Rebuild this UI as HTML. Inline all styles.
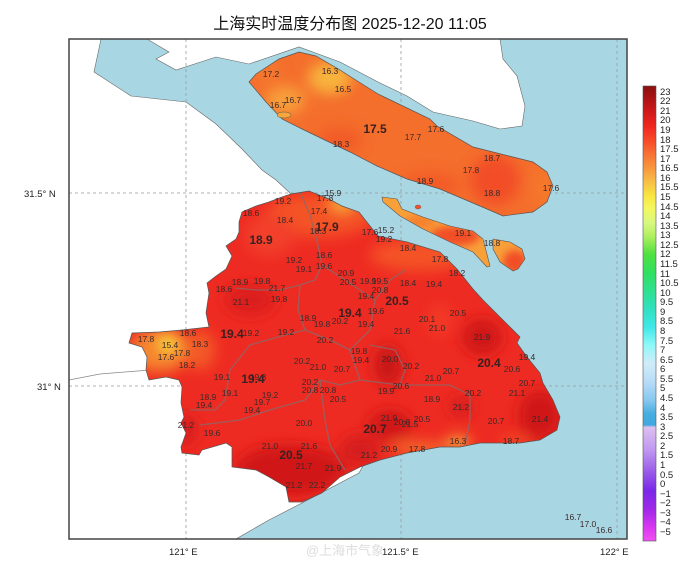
<!DOCTYPE html>
<html><head><meta charset="utf-8"><style>
html,body{margin:0;padding:0;background:#fff;width:690px;height:568px;overflow:hidden}
svg{display:block}
.t{font-family:"Liberation Sans",sans-serif;font-size:8.5px;fill:#3a2a2a;text-anchor:middle}
.b{font-family:"Liberation Sans",sans-serif;font-size:12px;font-weight:bold;fill:#3a2020;text-anchor:middle}
.ax{font-family:"Liberation Sans",sans-serif;font-size:9.5px;fill:#222}
.cb{font-family:"Liberation Sans",sans-serif;font-size:9.5px;fill:#222}
</style></head><body>
<svg width="690" height="568" viewBox="0 0 690 568" xmlns="http://www.w3.org/2000/svg">
<defs>
<filter id="bl" x="-50%" y="-50%" width="200%" height="200%"><feGaussianBlur stdDeviation="7"/></filter>
<filter id="bl2" x="-50%" y="-50%" width="200%" height="200%"><feGaussianBlur stdDeviation="4"/></filter>
<clipPath id="sh"><path id="shp" d="M291,194 L309,191 L329,199 L342,206 L359,212 L378,236 L407,242 L440,252 L457,269 L473,289 L483,300 L500,317 L520,337 L517,343 L527,357 L540,373 L543,383 L553,400 L560,417 L557,430 L540,440 L520,443 L480,443 L460,447 L440,447 L407,453 L380,460 L360,467 L340,477 L322,493 L302,502 L289,502 L286,487 L269,477 L256,470 L232,467 L232,447 L226,443 L202,450 L199,455 L182,453 L181,447 L186,433 L181,423 L184,417 L181,403 L182,387 L179,380 L166,377 L149,380 L146,370 L147,357 L142,347 L129,343 L132,333 L159,332 L182,330 L209,327 L206,313 L209,293 L207,283 L216,276 L226,269 L232,256 L226,246 L236,239 L239,232 L239,222 L242,212 L256,206 L269,202 L282,197 Z"/></clipPath>
<clipPath id="cm"><path d="M249,82 L256,74 L279,59 L299,52 L316,56 L340,70 L378,94 L430,119 L437,126 L473,147 L533,162 L547,172 L553,186 L547,202 L533,212 L503,216 L487,209 L440,189 L407,179 L377,166 L350,152 L329,142 L302,129 L282,119 L266,102 Z"/></clipPath>
<clipPath id="cx"><path d="M382,197 L397,199 L402,209 L423,217 L450,226 L473,231 L483,239 L490,266 L487,267 L473,252 L450,242 L423,229 L400,216 L383,202 Z M493,239 L510,242 L522,249 L525,259 L518,269 L513,271 L500,262 L493,249 Z"/></clipPath>
<linearGradient id="cbg" x1="0" y1="0" x2="0" y2="1">
<stop offset="0" stop-color="#8a1010"/><stop offset="0.03" stop-color="#b01414"/><stop offset="0.06" stop-color="#d41a1a"/><stop offset="0.09" stop-color="#f02820"/><stop offset="0.12" stop-color="#f84a28"/><stop offset="0.15" stop-color="#f87234"/><stop offset="0.18" stop-color="#f8963e"/><stop offset="0.21" stop-color="#f8be46"/><stop offset="0.24" stop-color="#f8e440"/><stop offset="0.27" stop-color="#f4f860"/><stop offset="0.30" stop-color="#d8f880"/><stop offset="0.33" stop-color="#b0f060"/><stop offset="0.37" stop-color="#50e040"/><stop offset="0.41" stop-color="#30e060"/><stop offset="0.45" stop-color="#30e090"/><stop offset="0.49" stop-color="#30e0c0"/><stop offset="0.53" stop-color="#40e8e8"/><stop offset="0.57" stop-color="#90f8f8"/><stop offset="0.61" stop-color="#d0ecf8"/><stop offset="0.65" stop-color="#b8dcf8"/><stop offset="0.69" stop-color="#88c8f0"/><stop offset="0.72" stop-color="#48aee0"/><stop offset="0.745" stop-color="#40a8e0"/><stop offset="0.75" stop-color="#dcc0f0"/><stop offset="0.80" stop-color="#c098f0"/><stop offset="0.85" stop-color="#9858e8"/><stop offset="0.89" stop-color="#7a28e8"/><stop offset="0.93" stop-color="#a028e8"/><stop offset="0.97" stop-color="#d838f0"/><stop offset="1" stop-color="#f050f0"/>
</linearGradient>
</defs>
<text x="350" y="29" text-anchor="middle" style="font-family:'Liberation Sans','Noto Sans CJK SC',sans-serif;font-size:16px;fill:#111">上海实时温度分布图 2025-12-20 11:05</text>
<rect x="69" y="39" width="558" height="500" fill="#fff"/>
<path d="M101,39 L147,39 L169,52 L156,59 L176,70 L216,57 L249,64 L299,47 L340,62 L378,82 L407,96 L433,112 L473,121 L500,129 L522,126 L525,106 L517,76 L503,59 L500,39 L627,39 L627,539 L236,539 L269,520 L302,503 L359,473 L400,400 L300,260 L291,194 L276,180 L262,170 L242,149 L216,124 L186,102 L131,96 L94,72 Z" fill="#a9d6e3" stroke="#666" stroke-width="0.6"/>
<path d="M69,380 L100,374 L150,370" fill="none" stroke="#888" stroke-width="0.8"/>
<g stroke="#999" stroke-width="0.8" stroke-dasharray="3,3" fill="none">
<line x1="186" y1="39" x2="186" y2="539"/><line x1="401" y1="39" x2="401" y2="539"/><line x1="617" y1="39" x2="617" y2="539"/>
<line x1="69" y1="193" x2="627" y2="193"/><line x1="69" y1="386" x2="627" y2="386"/>
</g>
<g clip-path="url(#cm)">
<rect x="240" y="40" width="320" height="190" fill="#f46e2c"/>
<g filter="url(#bl)">
<ellipse cx="330" cy="78" rx="22" ry="16" fill="#f8b43c"/>
<ellipse cx="285" cy="100" rx="20" ry="14" fill="#f8a03a"/>
<ellipse cx="265" cy="70" rx="15" ry="12" fill="#f5782e"/>
<ellipse cx="340" cy="140" rx="22" ry="12" fill="#f25a28"/>
<ellipse cx="430" cy="185" rx="30" ry="12" fill="#f35a28"/>
<ellipse cx="495" cy="180" rx="25" ry="25" fill="#f24e26"/>
<ellipse cx="545" cy="188" rx="12" ry="22" fill="#f5782c"/>
</g>
</g>
<path d="M249,82 L256,74 L279,59 L299,52 L316,56 L340,70 L378,94 L430,119 L437,126 L473,147 L533,162 L547,172 L553,186 L547,202 L533,212 L503,216 L487,209 L440,189 L407,179 L377,166 L350,152 L329,142 L302,129 L282,119 L266,102 Z" fill="none" stroke="#555" stroke-width="0.7"/>
<ellipse cx="284" cy="115" rx="7" ry="3" fill="#f8a83a" stroke="#555" stroke-width="0.5"/>
<ellipse cx="418" cy="207" rx="3" ry="2" fill="#f25028" stroke="#555" stroke-width="0.4"/>
<g clip-path="url(#cx)">
<rect x="378" y="192" width="150" height="82" fill="#f8a03a"/>
<g filter="url(#bl2)">
<ellipse cx="455" cy="236" rx="25" ry="10" fill="#f24e26"/>
<ellipse cx="515" cy="262" rx="12" ry="12" fill="#f24e26"/>
<ellipse cx="420" cy="222" rx="15" ry="7" fill="#f6802e"/>
</g>
</g>
<path d="M382,197 L397,199 L402,209 L423,217 L450,226 L473,231 L483,239 L490,266 L487,267 L473,252 L450,242 L423,229 L400,216 L383,202 Z M493,239 L510,242 L522,249 L525,259 L518,269 L513,271 L500,262 L493,249 Z" fill="none" stroke="#555" stroke-width="0.6"/>
<g clip-path="url(#sh)">
<rect x="120" y="185" width="450" height="325" fill="#ee2b22"/>
<g filter="url(#bl)">
<ellipse cx="320" cy="215" rx="55" ry="22" fill="#f45228"/>
<ellipse cx="420" cy="255" rx="50" ry="16" fill="#f45228"/>
<ellipse cx="342" cy="203" rx="12" ry="7" fill="#f8b83c"/>
<ellipse cx="270" cy="235" rx="25" ry="20" fill="#f2402a"/>
<ellipse cx="160" cy="350" rx="30" ry="22" fill="#f5852e"/>
<ellipse cx="168" cy="343" rx="9" ry="8" fill="#f8e040"/>
<ellipse cx="200" cy="350" rx="15" ry="20" fill="#f35a28"/>
<ellipse cx="250" cy="300" rx="25" ry="15" fill="#dc1c1c"/>
<ellipse cx="482" cy="337" rx="20" ry="18" fill="#cf1818"/>
<ellipse cx="540" cy="415" rx="22" ry="25" fill="#d01818"/>
<ellipse cx="388" cy="365" rx="14" ry="20" fill="#c81616"/>
<ellipse cx="390" cy="425" rx="22" ry="15" fill="#d01818"/>
<ellipse cx="360" cy="450" rx="20" ry="15" fill="#d41a1a"/>
<ellipse cx="290" cy="470" rx="55" ry="25" fill="#d01818"/>
<ellipse cx="185" cy="430" rx="12" ry="15" fill="#d41a1a"/>
<ellipse cx="461" cy="407" rx="12" ry="10" fill="#d41a1a"/>
<ellipse cx="420" cy="448" rx="30" ry="5" fill="#f5802e"/>
<ellipse cx="458" cy="443" rx="12" ry="6" fill="#f8c040"/>
<ellipse cx="515" cy="442" rx="15" ry="4" fill="#f35a28"/>
<ellipse cx="440" cy="320" rx="12" ry="15" fill="#f33a26"/>
</g>
<g fill="none" stroke="#8a6a6a" stroke-width="1.3" opacity="0.8">
<path d="M300,192 L310,215 L318,245 L322,265 L315,280 L300,285 L280,290 L255,290 L235,288"/>
<path d="M322,265 L345,280 L360,290 L375,300 L390,280 L405,270"/>
<path d="M300,285 L298,310 L305,330 L285,335 L250,345 L230,370 L225,400 L215,410 L190,410"/>
<path d="M305,330 L330,340 L350,350 L370,330 L375,300"/>
<path d="M350,350 L360,380 L340,385 L320,380 L305,400 L270,410 L240,420 L200,425"/>
<path d="M360,380 L400,385 L450,385 L470,395 L470,420 L465,445"/>
<path d="M370,345 L395,350 L405,370 L400,385"/>
<path d="M320,380 L325,420 L330,445 L345,470"/>
</g>
</g>
<use href="#shp" fill="none" stroke="#555" stroke-width="0.7"/>
<rect x="69" y="39" width="558" height="500" fill="none" stroke="#444" stroke-width="1.5"/>
<g class="t">
<text x="271" y="77">17.2</text><text x="330" y="74">16.3</text><text x="343" y="92">16.5</text><text x="293" y="103">16.7</text><text x="278" y="108">16.7</text>
<text x="413" y="140">17.7</text><text x="436" y="132">17.6</text><text x="341" y="147">18.3</text><text x="492" y="161">18.7</text><text x="471" y="173">17.8</text><text x="425" y="184">18.9</text><text x="492" y="196">18.8</text><text x="551" y="191">17.6</text>
<text x="463" y="236">19.1</text><text x="492" y="246">18.8</text>
<text x="333" y="196">15.9</text><text x="325" y="201">17.8</text><text x="283" y="204">19.2</text><text x="251" y="216">18.6</text><text x="319" y="214">17.4</text><text x="285" y="223">18.4</text><text x="318" y="234">18.3</text>
<text x="370" y="235">17.6</text><text x="386" y="233">15.2</text><text x="384" y="242">19.2</text><text x="408" y="251">18.4</text><text x="440" y="262">17.8</text><text x="457" y="276">18.2</text>
<text x="324" y="258">18.6</text><text x="294" y="263">19.2</text><text x="304" y="272">19.1</text><text x="324" y="269">19.6</text><text x="346" y="276">20.9</text><text x="348" y="285">20.5</text><text x="368" y="284">19.9</text><text x="380" y="284">19.5</text>
<text x="408" y="286">18.4</text><text x="434" y="287">19.4</text><text x="240" y="285">18.9</text><text x="262" y="284">19.8</text><text x="224" y="292">18.6</text><text x="277" y="291">21.7</text><text x="241" y="305">21.1</text><text x="279" y="302">19.8</text>
<text x="380" y="293">20.8</text><text x="366" y="299">19.4</text><text x="376" y="314">19.6</text><text x="308" y="321">18.9</text><text x="322" y="327">19.8</text><text x="340" y="324">20.2</text><text x="366" y="327">19.4</text>
<text x="427" y="322">20.1</text><text x="458" y="316">20.5</text><text x="437" y="331">21.0</text><text x="482" y="340">21.9</text><text x="402" y="334">21.6</text>
<text x="251" y="336">19.2</text><text x="286" y="335">19.2</text><text x="325" y="343">20.2</text><text x="188" y="336">18.6</text><text x="200" y="347">18.3</text><text x="146" y="342">17.8</text><text x="170" y="348">15.4</text><text x="166" y="360">17.6</text><text x="182" y="356">17.8</text><text x="187" y="368">18.2</text>
<text x="359" y="354">19.8</text><text x="390" y="362">20.0</text><text x="411" y="369">20.2</text><text x="361" y="363">19.4</text><text x="302" y="364">20.2</text><text x="318" y="370">21.0</text><text x="342" y="372">20.7</text>
<text x="258" y="380">19.8</text><text x="222" y="380">19.1</text><text x="512" y="372">20.6</text><text x="527" y="360">19.4</text><text x="451" y="374">20.7</text><text x="433" y="381">21.0</text><text x="527" y="386">20.7</text><text x="517" y="396">21.1</text>
<text x="310" y="385">20.2</text><text x="310" y="393">20.8</text><text x="328" y="393">20.8</text><text x="401" y="389">20.6</text><text x="386" y="394">19.9</text><text x="473" y="396">20.2</text>
<text x="208" y="400">18.9</text><text x="230" y="396">19.1</text><text x="270" y="398">19.2</text><text x="262" y="405">19.7</text><text x="204" y="408">19.4</text><text x="338" y="402">20.5</text><text x="432" y="402">18.9</text><text x="461" y="410">21.2</text><text x="252" y="413">19.4</text>
<text x="304" y="426">20.0</text><text x="389" y="421">21.9</text><text x="410" y="427">21.5</text><text x="422" y="422">20.5</text><text x="402" y="425">20.8</text><text x="496" y="424">20.7</text><text x="540" y="422">21.4</text>
<text x="186" y="428">21.2</text><text x="212" y="436">19.6</text><text x="389" y="452">20.9</text><text x="417" y="452">17.8</text><text x="458" y="444">16.3</text><text x="511" y="444">18.7</text>
<text x="270" y="449">21.0</text><text x="309" y="449">21.6</text><text x="304" y="469">21.7</text><text x="333" y="471">21.9</text><text x="369" y="458">21.2</text><text x="294" y="488">21.2</text><text x="317" y="488">22.2</text>
<text x="573" y="520">16.7</text><text x="588" y="527">17.0</text><text x="604" y="533">16.6</text>
</g>
<g class="b">
<text x="375" y="133">17.5</text><text x="327" y="231">17.9</text><text x="261" y="244">18.9</text><text x="397" y="305">20.5</text><text x="350" y="317">19.4</text><text x="232" y="338">19.4</text><text x="253" y="383">19.4</text><text x="489" y="367">20.4</text><text x="375" y="433">20.7</text><text x="291" y="459">20.5</text>
</g>
<text class="ax" x="24" y="197">31.5° N</text><text class="ax" x="37" y="390">31° N</text>
<text class="ax" x="169" y="555">121° E</text><text class="ax" x="382" y="555">121.5° E</text><text class="ax" x="600" y="555">122° E</text>
<text x="345" y="555" text-anchor="middle" style="font-family:'Liberation Sans','Noto Sans CJK SC',sans-serif;font-size:13px;fill:#ddd">@上海市气象</text>
<rect x="643" y="86" width="13" height="455" fill="url(#cbg)" stroke="#555" stroke-width="0.6"/>
<g class="cb">
<text x="660" y="95">23</text><text x="660" y="104">22</text><text x="660" y="114">21</text><text x="660" y="123">20</text><text x="660" y="133">19</text><text x="660" y="143">18</text><text x="660" y="152">17.5</text><text x="660" y="162">17</text><text x="660" y="171">16.5</text><text x="660" y="181">16</text><text x="660" y="190">15.5</text><text x="660" y="200">15</text><text x="660" y="210">14.5</text><text x="660" y="219">14</text><text x="660" y="229">13.5</text><text x="660" y="238">13</text><text x="660" y="248">12.5</text><text x="660" y="257">12</text><text x="660" y="267">11.5</text><text x="660" y="277">11</text><text x="660" y="286">10.5</text><text x="660" y="296">10</text><text x="660" y="305">9.5</text><text x="660" y="315">9</text><text x="660" y="324">8.5</text><text x="660" y="334">8</text><text x="660" y="344">7.5</text><text x="660" y="353">7</text><text x="660" y="363">6.5</text><text x="660" y="372">6</text><text x="660" y="382">5.5</text><text x="660" y="391">5</text><text x="660" y="401">4.5</text><text x="660" y="411">4</text><text x="660" y="420">3.5</text><text x="660" y="430">3</text><text x="660" y="439">2.5</text><text x="660" y="449">2</text><text x="660" y="458">1.5</text><text x="660" y="468">1</text><text x="660" y="478">0.5</text><text x="660" y="487">0</text><text x="660" y="497">−1</text><text x="660" y="506">−2</text><text x="660" y="516">−3</text><text x="660" y="525">−4</text><text x="660" y="535">−5</text>
</g>
</svg>
</body></html>
